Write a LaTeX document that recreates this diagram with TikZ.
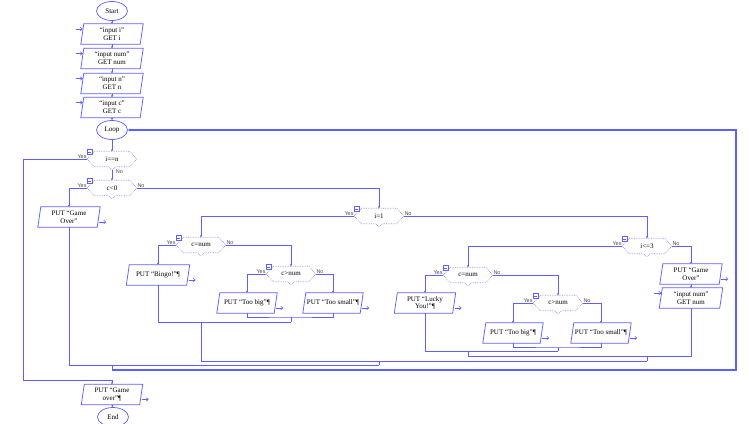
\documentclass[tikz,border=0pt]{standalone}
\usepackage{fontspec}
\setmainfont{Liberation Serif}
\newfontfamily\ynsans{Liberation Sans}
\usetikzlibrary{arrows.meta,shapes.geometric}
\definecolor{lineblue}{RGB}{95,95,255}
\definecolor{decblue}{RGB}{145,145,250}
\newcommand\boxfont{\fontsize{7}{7.6}\selectfont}
\newcommand\ynfont{\ynsans\fontsize{5.5}{6}\selectfont}
\tikzset{
  flow/.style={draw=lineblue, line width=0.75pt},
  arr/.style={flow, -{Stealth[length=2.2pt,width=2.4pt]}},
  loopline/.style={draw=lineblue, line width=1.1pt, -{Stealth[length=2.4pt,width=2.6pt]}},
  term/.style={ellipse, draw=lineblue, line width=0.75pt, minimum width=31pt, minimum height=19pt, inner sep=0pt, font=\boxfont},
  iobox/.style={draw=none, minimum height=20pt, inner sep=0pt, align=center, font=\boxfont},
  decbox/.style={draw=none, minimum width=49pt, minimum height=15pt, inner sep=0pt, font=\boxfont},
  decline/.style={draw=decblue, line width=0.7pt, densely dotted},
  iconline/.style={draw=lineblue, line width=0.5pt},
  yn/.style={font=\ynfont, text=black!70, inner sep=0.6pt},
  smallarr/.style={flow, line width=0.6pt, -{Straight Barb[length=2pt,width=3.5pt]}}
}
\newcommand\ionode[4]{%
  \node[iobox, minimum width=#3pt] (#1) at #2 {#4};
  \draw[flow] (#1.south west) -- ([xshift=3pt]#1.north west) -- (#1.north east) -- ([xshift=-3pt]#1.south east) -- cycle;}
\newcommand\outarrow[1]{%
  \coordinate (#1-o) at ([xshift=6pt,yshift=-5pt]#1.east);
  \draw[smallarr] ([xshift=-1pt,yshift=-5pt]#1.east) -- (#1-o);}
\newcommand\inarrow[1]{%
  \coordinate (#1-i) at ([xshift=-5pt,yshift=5pt]#1.west);
  \draw[smallarr] (#1-i) -- ([xshift=2pt,yshift=5pt]#1.west);}
\newcommand\decide[3]{%
  \node[decbox] (#1) at #2 {#3};
  \draw[decline] (#1.west) -- ([xshift=7pt]#1.north west) -- ([xshift=-7pt]#1.north east) -- (#1.east) -- ([xshift=-7pt]#1.south east) -- ([xshift=4pt]#1.south) -- ([yshift=-3pt]#1.south) -- ([xshift=-4pt]#1.south) -- ([xshift=7pt]#1.south west) -- cycle;
  \draw[iconline] ([yshift=-3pt]#1.north west) rectangle ++(5,-5);
  \draw[iconline] ([xshift=1pt,yshift=-0.5pt]#1.north west) -- ++(3,0);
  \node[yn, anchor=south east] at (#1.west) {Yes};}
\newcommand\noright[1]{\node[yn, anchor=south west] at (#1.east) {No};}
\begin{document}
\begin{tikzpicture}[x=1pt,y=-1pt]
\useasboundingbox (0,0) rectangle (749,423);
\clip (0,0) rectangle (749,423);

% main column
\node[term] (start) at (112,11) {Start};
\ionode{in1}{(112,34)}{62}{“input i”\\GET i}
\ionode{in2}{(112,58.5)}{62}{“input num”\\GET num}
\ionode{in3}{(112,83.5)}{62}{“input n”\\GET n}
\ionode{in4}{(112,107.5)}{62}{“input c”\\GET c}
\inarrow{in1}\inarrow{in2}\inarrow{in3}\inarrow{in4}
\node[term] (loop) at (112,130) {Loop};

\decide{d1}{(112,159)}{i==n}
\decide{d2}{(112,188)}{c<0}\noright{d2}
\ionode{go1}{(69,217)}{62}{PUT “Game\\Over”}
\outarrow{go1}

\decide{d3}{(379,216)}{i=1}\noright{d3}
\decide{d4}{(201,245)}{c=num}\noright{d4}
\ionode{bingo}{(158,275)}{63}{PUT “Bingo!”¶}
\outarrow{bingo}
\decide{d5}{(291,274)}{c>num}\noright{d5}
\ionode{big1}{(247,303)}{60}{PUT “Too big”¶}
\ionode{small1}{(333,303)}{60}{PUT “Too small”¶}
\outarrow{big1}\outarrow{small1}

\decide{d7}{(647,246)}{i<=3}\noright{d7}
\ionode{go2}{(691,274)}{62}{PUT “Game\\Over”}
\outarrow{go2}
\ionode{getnum}{(691,298)}{63}{“input num”\\GET num}
\inarrow{getnum}
\decide{d8}{(468,275)}{c=num}\noright{d8}
\ionode{lucky}{(425,303)}{61}{PUT “Lucky\\You!”¶}
\outarrow{lucky}
\decide{d9}{(558,303)}{c>num}\noright{d9}
\ionode{big2}{(513,333)}{60}{PUT “Too big”¶}
\ionode{small2}{(601,333)}{60}{PUT “Too small”¶}
\outarrow{big2}\outarrow{small2}

\ionode{pgo}{(112,394.5)}{61}{PUT “Game\\over”¶}
\outarrow{pgo}
\node[term] (endn) at (113,417) {End};

% connectors
\draw[arr] (start.south) -- (in1.north);
\draw[arr] (in1.south) -- (in2.north);
\draw[arr] (in2.south) -- (in3.north);
\draw[arr] (in3.south) -- (in4.north);
\draw[arr] (in4.south) -- (loop.north);
\draw[arr] (loop.south) -- (d1.north);
\draw[arr] ([yshift=-3pt]d1.south) -- (d2.north);
\node[yn, anchor=north west] at ([xshift=3pt,yshift=-2pt]d1.south) {No};
\coordinate (yesL) at (23,380);
\draw[arr] (d1.west) -| (yesL) -| (pgo.north);
\draw[arr] (pgo.south) -- (endn.north);
\draw[arr] (d2.west) -| (go1.north);
\draw[arr] (d2.east) -| (d3.north);
\draw[arr] (d3.west) -| (d4.north);
\draw[arr] (d3.east) -| (d7.north);
\draw[arr] (d4.west) -| (bingo.north);
\draw[arr] (d4.east) -| (d5.north);
\draw[arr] (d5.west) -| (big1.north);
\draw[arr] (d5.east) -| (small1.north);
\draw[arr] (d7.west) -| (d8.north);
\draw[arr] (d7.east) -| (go2.north);
\draw[arr] (go2.south) -- (getnum.north);
\draw[arr] (d8.west) -| (lucky.north);
\draw[arr] (d8.east) -| (d9.north);
\draw[arr] (d9.west) -| (big2.north);
\draw[arr] (d9.east) -| (small2.north);

% merges
\coordinate (m5) at (291,317);
\coordinate (m4) at (201,322);
\coordinate (m3) at (379,361);
\coordinate (m9) at (558,347);
\coordinate (m8) at (468,351);
\coordinate (m7) at (647,356);
\coordinate (m2) at (112,365);
\coordinate (lb) at (736,370);
\draw[flow] (big1.south) |- (m5) -| (small1.south);
\draw[flow] (m5) -- (m5 |- m4);
\draw[flow] (bingo.south) |- (m5 |- m4);
\draw[flow] (m4) -- (m4 |- m3);
\draw[flow] (big2.south) |- (m9) -| (small2.south);
\draw[flow] (m9) -- (m9 |- m8);
\draw[flow] (lucky.south) |- (m9 |- m8);
\draw[flow] (m8) -- (m8 |- m7);
\draw[flow] (m8 |- m7) -| (getnum.south);
\draw[flow] (m7) -- (m7 |- m3);
\draw[flow] (m4 |- m3) -- (m7 |- m3);
\draw[flow] (m3) -- (m3 |- m2);
\draw[flow] (go1.south) |- (m3 |- m2);
\draw[flow] (m2) -- (m2 |- lb);
\draw[loopline] (m2 |- lb) -- (lb) |- (loop.east);
\end{tikzpicture}
\end{document}
